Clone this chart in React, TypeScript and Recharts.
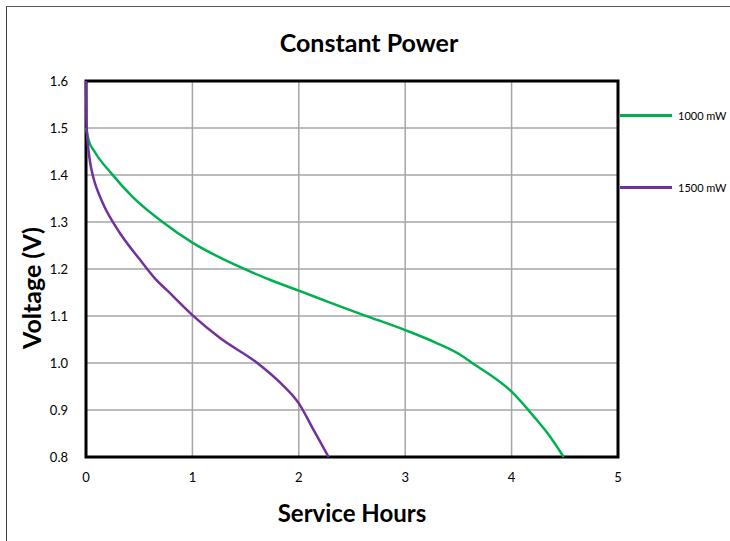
import { LineChart, Line, XAxis, YAxis, CartesianGrid, ReferenceArea } from "recharts";

// values
const hours1000 = [0, 0.025, 0.08, 0.24, 0.44, 0.72, 1.0, 1.41, 1.74, 2.0, 2.3, 2.61, 3.0, 3.3, 3.52, 3.63, 4.0, 4.21, 4.34, 4.49];
const volts1000 = [1.5, 1.474, 1.45, 1.403, 1.353, 1.3, 1.256, 1.208, 1.176, 1.154, 1.128, 1.102, 1.07, 1.042, 1.017, 1.0, 0.939, 0.886, 0.85, 0.8];

const hours1500 = [0, 0.004, 0.012, 0.025, 0.04, 0.065, 0.1, 0.158, 0.32, 0.51, 0.66, 0.76, 1.0, 1.26, 1.61, 1.83, 2.0, 2.14, 2.28];
const volts1500 = [1.6, 1.52, 1.48, 1.45, 1.425, 1.398, 1.372, 1.34, 1.276, 1.219, 1.177, 1.155, 1.102, 1.053, 1.0, 0.957, 0.914, 0.857, 0.8];

const xTicks = [0, 1, 2, 3, 4, 5];
const yTicks = [0.8, 0.9, 1.0, 1.1, 1.2, 1.3, 1.4, 1.5, 1.6];

const series = [
  { name: "1000 mW", color: "#00B050", data: hours1000.map((h, i) => ({ hours: h, volts: volts1000[i] })) },
  { name: "1500 mW", color: "#7030A0", data: hours1500.map((h, i) => ({ hours: h, volts: volts1500[i] })) },
];

const font = "Lato, 'Open Sans', sans-serif";

export default function App() {
  return (
    <div style={{ position: "absolute", left: 0, top: 0, width: 730, height: 541, overflow: "hidden", background: "#fff" }}>
      <div style={{ position: "absolute", left: 6, top: 6, width: 740, height: 560, borderLeft: "1.5px solid #404040", borderTop: "1.5px solid #595959" }} />
      <div style={{ position: "absolute", left: 0, top: 27, width: 730, textAlign: "center", fontFamily: font, fontWeight: 700, fontSize: 25, lineHeight: "30px" }}>
        <span style={{ marginLeft: 8 }}>Constant Power</span>
      </div>
      <LineChart width={730} height={541} margin={{ top: 81, right: 112, bottom: 54, left: 26 }} style={{ position: "absolute", left: 0, top: 0 }}>
        <CartesianGrid stroke="#A6A6A6" strokeWidth={1.5} />
        <XAxis
          type="number"
          dataKey="hours"
          domain={[0, 5]}
          ticks={xTicks}
          allowDuplicatedCategory={false}
          axisLine={false}
          tickLine={false}
          tick={{ fontSize: 13, fill: "#000", fontFamily: font }}
          tickMargin={10}
          height={30}
          label={{ value: "Service Hours", position: "insideBottom", offset: -35, fontSize: 24, fontWeight: 700, fill: "#000", fontFamily: font }}
        />
        <YAxis
          type="number"
          dataKey="volts"
          domain={[0.8, 1.6]}
          ticks={yTicks}
          axisLine={false}
          tickLine={false}
          tickFormatter={(v: number) => v.toFixed(1)}
          tick={{ fontSize: 13, fill: "#000", fontFamily: font }}
          tickMargin={12}
          width={60}
          label={{ value: "Voltage (V)", angle: -90, position: "insideLeft", offset: 6, dy: 80, fontSize: 25, fontWeight: 700, fill: "#000", fontFamily: font }}
        />
        <ReferenceArea x1={0} x2={5} y1={0.8} y2={1.6} fill="none" stroke="#000" strokeWidth={3} ifOverflow="visible" />
        {series.map((s) => (
          <Line
            key={s.name}
            data={s.data}
            dataKey="volts"
            name={s.name}
            type="monotone"
            stroke={s.color}
            strokeWidth={2.5}
            dot={false}
            isAnimationActive={false}
          />
        ))}
      </LineChart>
      <div style={{ position: "absolute", left: 620, top: 105, fontFamily: font, fontSize: 11, color: "#000" }}>
        {series.map((s, i) => (
          <div key={s.name} style={{ display: "flex", alignItems: "center", height: 20, marginTop: i === 0 ? 0 : 52 }}>
            <div style={{ width: 52, height: 3, background: s.color, marginRight: 6 }} />
            <span>{s.name}</span>
          </div>
        ))}
      </div>
    </div>
  );
}
